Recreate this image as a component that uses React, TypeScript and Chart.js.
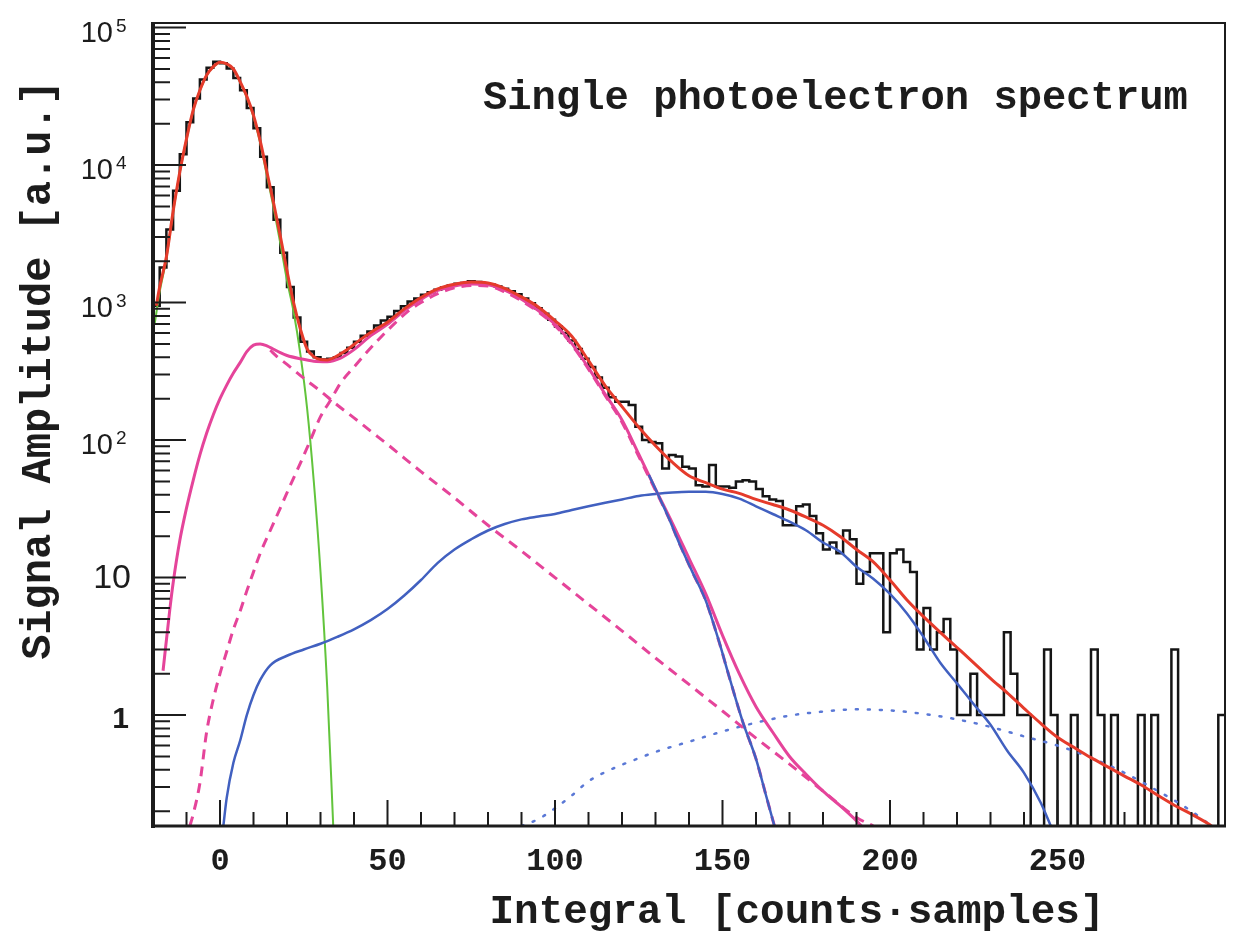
import React, { useEffect, useRef } from "react";
import { Chart, registerables } from "chart.js";

Chart.register(...registerables);

// ---- axis ranges ----
const X_MIN = -20;
const X_MAX = 300;
const Y_MIN = 0.156;
const Y_MAX = 1.08e5;

// ---- histogram (bin width 2, first bin starts at -20) ----
const BIN_START = -20;
const BIN_WIDTH = 2;
const histCounts = [
  950, 1800, 3400, 6500, 12000, 20500, 30500, 42000, 51000, 56500,
  55000, 50500, 43000, 35000, 26000, 18500, 11500, 6900, 4000, 2300,
  1300, 780, 520, 440, 400, 385, 390, 400, 430, 470,
  520, 575, 615, 680, 740, 790, 870, 940, 1020, 1070,
  1140, 1190, 1240, 1290, 1330, 1370, 1390, 1430, 1410, 1380,
  1350, 1310, 1260, 1210, 1150, 1070, 990, 910, 830, 750,
  670, 600, 530, 460, 390, 340, 285, 240, 205, 190,
  190, 180, 125, 100, 97, 95, 62, 78, 76, 64,
  62, 47, 46, 66, 46, 46, 45, 50, 51, 50,
  44, 39, 37, 36, 24, 24, 33, 34, 28, 21,
  16, 18, 15, 22, 19, 9, 11, 15, 15, 4,
  15, 16, 13, 11, 3, 6, 3, 4, 5, 3,
  1, 1, 2, 1, 1, 1, 1, 4, 2, 1,
  1, 0, 0, 3, 1, 0, 0, 1, 0, 0,
  3, 1, 0, 1, 0, 0, 0, 1, 0, 1,
  0, 0, 3, 0, 0, 0, 0, 0, 0, 1,
];

// ---- total fit (red) ----
const totalX = [
  -19, -18, -16, -14, -12, -10, -8, -6, -4, -2, 0, 2, 4, 6, 8, 10, 12, 14, 16, 18,
  20, 22, 24, 26, 28, 30, 32, 35, 38, 42, 46,
  50, 55, 60, 65, 70, 75, 80, 85, 90, 95, 100, 105, 110, 115, 120, 125, 130, 135, 140, 145,
  150, 155, 160, 165, 170, 175, 180, 185, 190, 195, 200, 205, 210, 215, 220, 225, 230, 235, 240, 245,
  250, 255, 260, 265, 270, 275, 280, 285, 290, 295, 296,
];
const totalY = [
  950, 1300, 2150, 4600, 8900, 15500, 25100, 35000, 45000, 52000, 56000, 54500, 50000, 40500, 31600, 23000, 15000, 8900, 5300, 3050,
  1700, 990, 640, 460, 405, 385, 383, 410, 455, 540, 630,
  720, 900, 1090, 1260, 1360, 1410, 1390, 1270, 1100, 930, 740, 569, 378, 248, 175, 124, 91, 69, 55, 49,
  44, 41, 37, 34, 31, 27.5, 24, 20, 16, 13, 9.6, 6.9, 5.2, 4.0, 3.1, 2.4, 1.85, 1.45, 1.12, 0.87,
  0.69, 0.58, 0.49, 0.42, 0.36, 0.31, 0.26, 0.22, 0.19, 0.162, 0.156,
];

// ---- pedestal (green) ----
const pedX = [-19.5, -18, -16, -14, -12, -10, -8, -6, -4, -2, 0, 2, 4, 6, 8, 10, 12, 14, 16, 18, 20, 22, 24, 26, 28, 30, 32, 33.8];
const pedY = [700, 1200, 2100, 4550, 8850, 15400, 25000, 34900, 44900, 51800, 55800, 54200, 49700, 40100, 31100, 22500, 14500, 8400, 4900, 2700, 1450, 850, 420, 170, 50, 11, 1.6, 0.156];

// ---- single p.e. total (magenta solid) ----
const speX = [
  -17, -15, -14, -12, -10, -8, -6, -4, -2, 0, 2, 4, 6, 8, 10, 12, 14, 16, 18, 20,
  24, 28, 32, 36, 40,
  45, 50, 55, 60, 65, 70, 75, 80, 85, 90, 95, 100, 105, 110, 115, 120, 125, 130, 135, 140,
  145, 150, 155, 160, 165, 170, 175, 180, 185, 190, 191.5,
];
const speY = [
  2.1, 5.8, 9.1, 18.6, 32, 51, 78, 112, 153, 200, 251, 307, 366, 440, 490, 500, 485, 458, 432, 412,
  390, 375, 372, 395, 455,
  575, 695, 875, 1055, 1225, 1320, 1365, 1345, 1230, 1060, 875, 695, 505, 335, 215, 140, 79, 44, 25, 13.8,
  7.6, 3.8, 2.0, 1.15, 0.75, 0.5, 0.37, 0.28, 0.22, 0.17, 0.156,
];

// ---- single p.e. gaussian part (magenta dashed) ----
const speGausX = [
  -9, -8, -6, -4, -2, 0, 2, 4, 6, 8, 10, 12, 15, 18, 21, 24, 27, 30, 33, 36,
  40, 44, 48, 52, 56, 60, 65, 70, 75, 80, 85, 90, 95, 100, 105, 110, 115, 120, 125, 130,
  134, 137, 141, 145, 149, 152, 156, 160, 163, 165.5,
];
const speGausY = [
  0.156, 0.19, 0.32, 0.75, 1.3, 2.0, 2.9, 4.2, 5.7, 8, 11, 15, 22, 32, 47, 68, 100, 148, 195, 260,
  340, 440, 560, 700, 860, 1000, 1160, 1280, 1330, 1320, 1195, 1030, 855, 680, 495, 328, 210, 135, 76, 43,
  27, 18, 11, 6.8, 3.4, 1.9, 0.9, 0.48, 0.26, 0.156,
];

// ---- single p.e. exponential part (magenta dashed) ----
const speExpX = [15, 17, 20, 25, 30, 35, 40, 45, 50, 55, 60, 70, 80, 90, 100, 110, 120, 130, 140, 150, 160, 170, 180, 190, 195];
const speExpY = [450, 405, 355, 282, 227, 180, 145, 116, 93, 74, 59, 38, 24, 15.6, 10, 6.4, 4.1, 2.6, 1.67, 1.07, 0.68, 0.44, 0.28, 0.18, 0.156];

// ---- two p.e. (blue solid) ----
const pe2X = [
  1, 2, 4, 6, 8, 10, 12, 15,
  20, 25, 30, 35, 40, 45, 50, 55, 60, 65, 70, 75, 80, 85, 90, 95, 100, 105, 110, 115,
  120, 125, 130, 135, 140, 145, 150, 155, 160, 165, 170, 175, 180, 185, 190, 195, 200, 205, 210, 215,
  220, 225, 230, 235, 240, 245, 248,
];
const pe2Y = [
  0.156, 0.25, 0.45, 0.65, 1.0, 1.4, 1.8, 2.3,
  2.7, 3.0, 3.3, 3.7, 4.2, 4.9, 5.9, 7.4, 9.6, 12.8, 16, 19, 22, 24.5, 26.5, 27.8, 29, 31, 33, 35,
  37, 39.2, 40.5, 41.5, 42, 42, 40.5, 37.5, 33, 29, 25.5, 22, 18, 15.5, 12, 9.8, 7.6, 5.5, 3.7, 2.4,
  1.7, 1.2, 0.85, 0.55, 0.38, 0.23, 0.156,
];

// ---- two p.e. narrow component (blue solid, steep) ----
const pe2bX = [128, 130, 134, 137, 141, 145, 149, 152, 156, 160, 163, 165.5];
const pe2bY = [56, 44, 27, 18, 11, 6.8, 3.4, 1.9, 0.9, 0.48, 0.26, 0.156];

// ---- three p.e. (blue dotted) ----
const pe3X = [90, 95, 100, 105, 110, 115, 120, 125, 130, 140, 150, 160, 170, 180, 190, 200, 210, 220, 230, 240, 250, 260, 270, 280, 290, 296];
const pe3Y = [0.156, 0.175, 0.21, 0.26, 0.33, 0.385, 0.435, 0.485, 0.54, 0.64, 0.76, 0.88, 0.99, 1.06, 1.1, 1.08, 1.02, 0.93, 0.82, 0.7, 0.6, 0.49, 0.38, 0.28, 0.2, 0.156];

// ---- ticks & labels ----
const xMajorTicks = [0, 50, 100, 150, 200, 250];
const xTickLabels = ["0", "50", "100", "150", "200", "250"];
const X_MINOR_STEP = 10;
const yTickValues = [1, 10, 100, 1000, 10000, 100000];
const yTickBase = ["1", "10", "10", "10", "10", "10"];
const yTickExp = ["", "", "2", "3", "4", "5"];

const TITLE = "Single photoelectron spectrum";
const X_TITLE = "Integral [counts\u00B7samples]";
const Y_TITLE = "Signal Amplitude [a.u.]";

const toPoints = (xs: number[], ys: number[]) => xs.map((x, i) => ({ x, y: ys[i] }));

// empty bins are drawn down to (below) the axis floor, as on a log-scale histogram
const EMPTY_BIN_FLOOR = Y_MIN / 10;
const histPoints = () => {
  const pts = histCounts.map((c, i) => ({ x: BIN_START + i * BIN_WIDTH, y: c > 0 ? c : EMPTY_BIN_FLOOR }));
  const last = histCounts[histCounts.length - 1];
  pts.push({ x: BIN_START + histCounts.length * BIN_WIDTH, y: last > 0 ? last : EMPTY_BIN_FLOOR });
  return pts;
};

const INK = "#1c1c1c";

const rootAxes = {
  id: "rootAxes",
  afterDraw(chart: any) {
    const { ctx, chartArea: a } = chart;
    const xs = chart.scales.x;
    const ys = chart.scales.y;
    ctx.save();
    ctx.strokeStyle = INK;
    ctx.fillStyle = INK;

    // ticks (inside)
    ctx.lineWidth = 2;
    ctx.beginPath();
    for (let v = X_MIN + X_MINOR_STEP; v < X_MAX; v += X_MINOR_STEP) {
      const px = xs.getPixelForValue(v);
      const len = xMajorTicks.includes(v) ? 26 : 14;
      ctx.moveTo(px, a.bottom);
      ctx.lineTo(px, a.bottom - len);
    }
    for (let d = -1; d <= 5; d++) {
      for (let m = 1; m <= 9; m++) {
        const v = m * Math.pow(10, d);
        if (v < Y_MIN || v > Y_MAX) continue;
        const py = ys.getPixelForValue(v);
        const len = m === 1 ? 33 : 17;
        ctx.moveTo(a.left, py);
        ctx.lineTo(a.left + len, py);
      }
    }
    ctx.stroke();

    // frame
    ctx.lineWidth = 2;
    ctx.strokeRect(a.left, a.top, a.right - a.left, a.bottom - a.top);
    ctx.lineWidth = 4;
    ctx.beginPath();
    ctx.moveTo(a.left, a.top - 1);
    ctx.lineTo(a.left, a.bottom + 2);
    ctx.stroke();
    ctx.lineWidth = 3;
    ctx.beginPath();
    ctx.moveTo(a.left - 2, a.bottom);
    ctx.lineTo(a.right + 1, a.bottom);
    ctx.stroke();

    // x tick labels
    ctx.font = 'bold 32px "Liberation Mono"';
    ctx.textAlign = "center";
    ctx.textBaseline = "middle";
    xMajorTicks.forEach((v, i) => {
      ctx.fillText(xTickLabels[i], xs.getPixelForValue(v), a.bottom + 36);
    });

    // y tick labels
    yTickValues.forEach((v, i) => {
      const py = ys.getPixelForValue(v);
      const exp = yTickExp[i];
      if (exp) {
        ctx.font = '29px "Liberation Sans"';
        ctx.textAlign = "right";
        ctx.textBaseline = "alphabetic";
        ctx.fillText(yTickBase[i], a.left - 40, py + 14);
        ctx.font = '19px "Liberation Sans"';
        ctx.textAlign = "left";
        ctx.fillText(exp, a.left - 37, py + 4);
      } else if (yTickBase[i] === "10") {
        ctx.font = '34px "Liberation Sans"';
        ctx.textAlign = "right";
        ctx.textBaseline = "middle";
        ctx.fillText(yTickBase[i], a.left - 22, py + 1);
      } else {
        ctx.font = 'bold 30px "Liberation Sans"';
        ctx.textAlign = "right";
        ctx.textBaseline = "middle";
        ctx.fillText(yTickBase[i], a.left - 24, py + 5);
      }
    });

    // axis titles
    ctx.font = 'bold 41px "Liberation Mono"';
    ctx.textAlign = "center";
    ctx.textBaseline = "middle";
    ctx.fillText(X_TITLE, 789, a.bottom + 87);

    ctx.save();
    ctx.translate(31, 362);
    ctx.rotate(-Math.PI / 2);
    ctx.font = 'bold 42px "Liberation Mono"';
    ctx.fillText(Y_TITLE, 0, 0);
    ctx.restore();

    // title inside the frame
    ctx.font = 'bold 40.5px "Liberation Mono"';
    ctx.textAlign = "left";
    ctx.textBaseline = "alphabetic";
    ctx.fillText(TITLE, 475, 101);

    ctx.restore();
  },
};

export default function App() {
  const ref = useRef<HTMLCanvasElement | null>(null);

  useEffect(() => {
    if (!ref.current) return;
    const curve = { pointRadius: 0, cubicInterpolationMode: "monotone" as const, fill: false };
    const chart = new Chart(ref.current, {
      type: "line",
      data: {
        datasets: [
          { label: "total fit", data: toPoints(totalX, totalY), borderColor: "#e53b2b", borderWidth: 3, ...curve },
          { label: "2 p.e. narrow", data: toPoints(pe2bX, pe2bY), borderColor: "#4160c0", borderWidth: 2.5, ...curve },
          { label: "1 p.e.", data: toPoints(speX, speY), borderColor: "#e5449a", borderWidth: 3, ...curve },
          { label: "2 p.e.", data: toPoints(pe2X, pe2Y), borderColor: "#4160c0", borderWidth: 2.5, ...curve },
          { label: "1 p.e. gaus", data: toPoints(speGausX, speGausY), borderColor: "#e5449a", borderWidth: 3, borderDash: [10, 7], ...curve },
          { label: "1 p.e. exp", data: toPoints(speExpX, speExpY), borderColor: "#e5449a", borderWidth: 3, borderDash: [10, 7], ...curve },
          { label: "3 p.e.", data: toPoints(pe3X, pe3Y), borderColor: "#5a78d6", borderWidth: 2.5, borderDash: [2, 10], borderCapStyle: "round", ...curve },
          { label: "pedestal", data: toPoints(pedX, pedY), borderColor: "#62c43c", borderWidth: 2, ...curve },
          { label: "data", data: histPoints(), borderColor: "#151515", borderWidth: 2.5, pointRadius: 0, stepped: true, fill: false },
        ],
      },
      options: {
        responsive: false,
        animation: false,
        devicePixelRatio: 1,
        events: [],
        layout: { padding: { left: 145, top: 15, right: 3, bottom: 105 } },
        plugins: { legend: { display: false }, tooltip: { enabled: false }, title: { display: false } },
        scales: {
          x: { type: "linear", min: X_MIN, max: X_MAX, display: false },
          y: { type: "logarithmic", min: Y_MIN, max: Y_MAX, display: false },
        },
      },
      plugins: [rootAxes],
    } as any);
    return () => chart.destroy();
  }, []);

  return <canvas ref={ref} width={1220} height={923} style={{ display: "block" }} />;
}
